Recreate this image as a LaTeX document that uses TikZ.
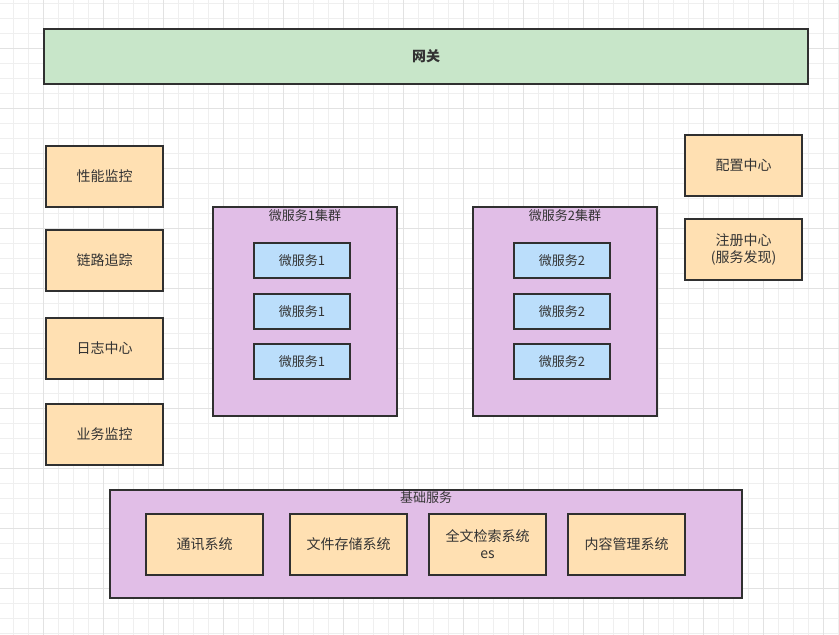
\documentclass[tikz,border=0pt]{standalone}
\usepackage{fontspec}
\setmainfont{Noto Sans CJK SC}
\definecolor{gwfill}{HTML}{C8E6C9}
\definecolor{orfill}{HTML}{FFE0B2}
\definecolor{pufill}{HTML}{E1BEE7}
\definecolor{blfill}{HTML}{BBDEFB}
\definecolor{edge}{HTML}{303030}
\definecolor{txt}{HTML}{333333}
\definecolor{gminor}{HTML}{EFEFEF}
\definecolor{gmajor}{HTML}{E2E2E2}
\begin{document}
\begin{tikzpicture}[x=1pt,y=-1pt,
  box/.style={draw=edge,line width=1.6pt,rectangle,inner sep=0pt,text=txt,font=\fontsize{13}{16}\selectfont,align=center},
  orbox/.style={box,fill=orfill,minimum width=117pt,minimum height=61pt,font=\fontsize{14}{17}\selectfont},
  svcbox/.style={box,fill=blfill,minimum width=96pt,minimum height=35pt},
  cluster/.style={box,fill=pufill},
  lbl/.style={inner sep=0pt,text=txt,font=\fontsize{13}{16}\selectfont,anchor=north}]
\useasboundingbox (0,0) rectangle (839,635);
\fill[white] (0,0) rectangle (839,635);
% grid
\foreach \x in {13.3,28.3,...,839}{\draw[gminor,line width=0.8pt] (\x,0) -- (\x,635);}
\foreach \y in {3.3,18.3,...,635}{\draw[gminor,line width=0.8pt] (0,\y) -- (839,\y);}
\foreach \x in {43.3,103.3,...,839}{\draw[gmajor,line width=0.8pt] (\x,0) -- (\x,635);}
\foreach \y in {48.3,108.3,...,635}{\draw[gmajor,line width=0.8pt] (0,\y) -- (839,\y);}
% gateway
\node[box,fill=gwfill,minimum width=764pt,minimum height=55pt,font=\fontsize{14}{17}\selectfont\bfseries] (gw) at (426,56.5) {网关};
% left column
\node[orbox] (perf) at (104.5,176.5) {性能监控};
\node[orbox] (trace) at (104.5,260.5) {链路追踪};
\node[orbox] (log) at (104.5,348.5) {日志中心};
\node[orbox] (biz) at (104.5,434.5) {业务监控};
% right column
\node[orbox] (conf) at (743.5,165.5) {配置中心};
\node[orbox] (reg) at (743.5,249.5) {注册中心\\(服务发现)};
% cluster 1
\node[cluster,minimum width=184pt,minimum height=209pt] (c1) at (305,311.5) {};
\node[lbl] (c1l) at ([yshift=-3pt]c1.north) {微服务1集群};
\node[svcbox] (s11) at (302,260.5) {微服务1};
\node[svcbox] (s12) at (302,311.5) {微服务1};
\node[svcbox] (s13) at (302,361.5) {微服务1};
% cluster 2
\node[cluster,minimum width=184pt,minimum height=209pt] (c2) at (565,311.5) {};
\node[lbl] (c2l) at ([yshift=-3pt]c2.north) {微服务2集群};
\node[svcbox] (s21) at (562,260.5) {微服务2};
\node[svcbox] (s22) at (562,311.5) {微服务2};
\node[svcbox] (s23) at (562,361.5) {微服务2};
% base services
\node[cluster,minimum width=632pt,minimum height=108pt] (base) at (426,544) {};
\node[lbl] (basel) at ([yshift=-2pt]base.north) {基础服务};
\node[orbox] (comm) at (204.5,544.5) {通讯系统};
\node[orbox] (file) at (348.5,544.5) {文件存储系统};
\node[orbox] (search) at (487.5,544.5) {全文检索系统\\es};
\node[orbox] (cms) at (626.5,544.5) {内容管理系统};
\end{tikzpicture}
\end{document}
